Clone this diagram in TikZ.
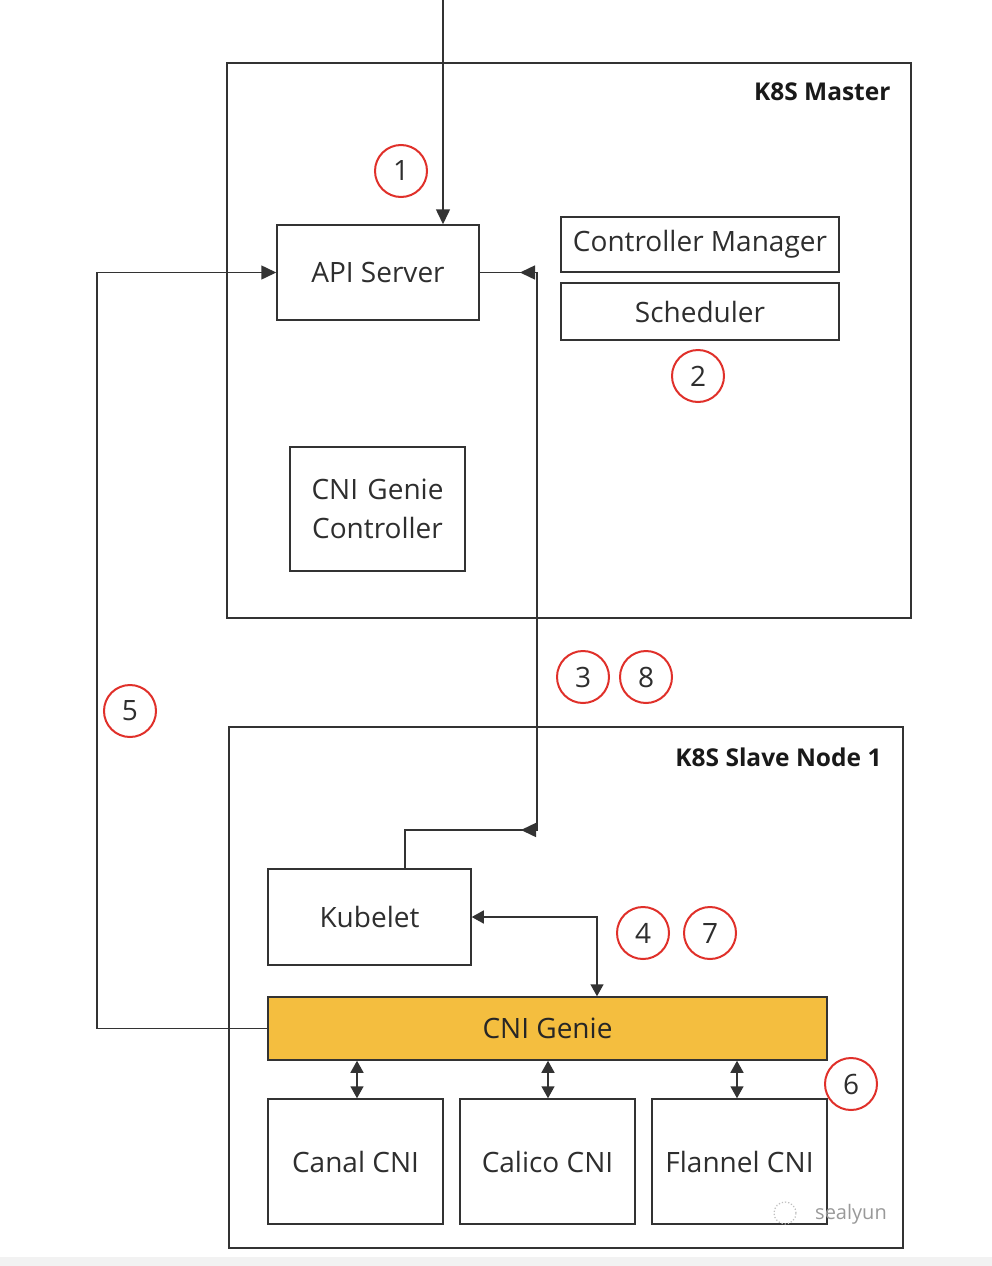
\documentclass[tikz,border=0pt]{standalone}
\usepackage{fontspec}
\setmainfont{Open Sans}
\usetikzlibrary{arrows.meta}
\definecolor{ln}{HTML}{333333}
\definecolor{txt}{HTML}{2E2E2E}
\definecolor{gold}{HTML}{F4BE3F}
\definecolor{redc}{HTML}{E0302A}
\tikzset{
  box/.style={draw=ln, line width=1.5pt, inner sep=0pt, text=txt, font=\fontsize{28}{39}\selectfont, align=center},
  frame/.style={draw=ln, line width=1.6pt},
  conn/.style={draw=ln, line width=1.5pt},
  tip/.style={-{Triangle[length=15pt,width=14pt]}},
  dtip/.style={{Triangle[length=12pt,width=13pt]}-{Triangle[length=12pt,width=13pt]}},
  num/.style={circle, draw=redc, line width=2pt, minimum size=52pt, inner sep=0pt, text=txt, font=\fontsize{28}{30}\selectfont},
  title/.style={font=\bfseries\fontsize{24.5}{28}\selectfont, text=black!90, anchor=east}
}
\begin{document}
\begin{tikzpicture}[x=1pt,y=-1pt]
\useasboundingbox (0,0) rectangle (992,1266);
\fill[white] (0,0) rectangle (992,1266);
\fill[black!5] (0,1257) rectangle (992,1266);
% frames
\draw[frame] (227,63) rectangle (911,618);
\node[title] (mtitle) at (894,92) {K8S Master};
\draw[frame] (229,727) rectangle (903,1248);
\node[title] (stitle) at (885,757) {K8S Slave Node 1};
% master nodes
\node[box, minimum width=202pt, minimum height=95pt] (api) at (378,272.5) {API Server};
\node[box, minimum width=278pt, minimum height=55pt] (cm) at (700,244.5) {Controller Manager};
\node[box, minimum width=278pt, minimum height=57pt] (sch) at (700,311.5) {Scheduler};
\node[box, minimum width=175pt, minimum height=124pt, text width=170pt] (gc) at (377.5,509) {CNI Genie\\Controller};
% slave nodes
\node[box, minimum width=203pt, minimum height=96pt] (kub) at (369.5,917) {Kubelet};
\node[box, fill=gold, minimum width=559pt, minimum height=63pt, text=black!85] (genie) at (547.5,1028.5) {CNI Genie};
\node[box, minimum width=175pt, minimum height=125pt] (canal) at (355.5,1161.5) {Canal CNI};
\node[box, minimum width=175pt, minimum height=125pt] (calico) at (547.5,1161.5) {Calico CNI};
\node[box, minimum width=175pt, minimum height=125pt] (flannel) at (739.5,1161.5) {Flannel CNI};
% numbers
\node[num] (n1) at (401,171) {1};
\node[num] (n2) at (698,376) {2};
\node[num] (n3) at (583,677) {3};
\node[num] (n8) at (646,677) {8};
\node[num] (n5) at (130,711) {5};
\node[num] (n4) at (643,933) {4};
\node[num] (n7) at (710,933) {7};
\node[num] (n6) at (851,1084) {6};
% coordinates
\coordinate (top) at (443,0);
\coordinate (rA) at (537,272.5);
\coordinate (rAt) at (520,272.5);
\coordinate (rB) at (537,830);
\coordinate (rBt) at (521,830);
\coordinate (kTop) at (405,830);
\coordinate (lA) at (97,272.5);
\coordinate (lB) at (97,1028.5);
\coordinate (kg) at (597,917);
% connectors
\draw[conn, tip] (top) -- (top |- api.north);
\draw[conn, tip] (genie.west) -- (lB) -- (lA) -- (api.west);
\draw[conn] (api.east) -- (rA) -- (rB) -- (kTop) -- (kTop |- kub.north);
\draw[conn, tip] (rA) -- (rAt);
\draw[conn, tip] (rB) -- (rBt);
\draw[conn, dtip] (kub.east) -- (kg) -- (kg |- genie.north);
\draw[conn, dtip] (canal.north -| 357,0) -- (genie.south -| 357,0);
\draw[conn, dtip] (calico.north -| 548,0) -- (genie.south -| 548,0);
\draw[conn, dtip] (flannel.north -| 737,0) -- (genie.south -| 737,0);
% watermark
\draw[black!25, line width=1.2pt, dotted] (785,1213) circle (11pt);
\node[text=black!40, font=\fontsize{20}{24}\selectfont] (wm) at (851,1214) {sealyun};
\end{tikzpicture}
\end{document}
